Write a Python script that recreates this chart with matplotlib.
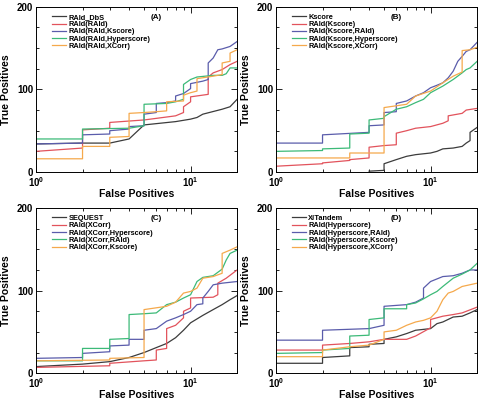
import numpy as np
import matplotlib.pyplot as plt
from matplotlib.ticker import MultipleLocator, LogLocator, NullFormatter

plt.rcParams['font.family'] = ['Liberation Sans', 'DejaVu Sans']
plt.rcParams['font.weight'] = 'bold'

colors = ['#3c3c3c', '#e2535c', '#5a5cab', '#3cba78', '#f5a94c']

# Panel A
a_labels = ['RAId_DbS', 'RAId(RAId)', 'RAId(RAId,Kscore)', 'RAId(RAId,Hyperscore)', 'RAId(RAId,XCorr)']
a_black_x = [1, 2, 3, 4, 5, 8, 10, 11, 12, 16, 18, 20]
a_black_y = [34, 35, 35, 40, 57, 61, 64, 66, 70, 76, 79, 88]
a_red_x = [1, 2, 2, 3, 3, 5, 8, 9, 9, 10, 10, 13, 13, 14, 16, 18, 20]
a_red_y = [25, 29, 51, 53, 60, 63, 68, 72, 79, 85, 91, 94, 115, 120, 124, 130, 134]
a_blue_x = [1, 2, 2, 3, 3, 4, 4, 5, 5, 6, 6, 7, 8, 8, 9, 10, 10, 12, 13, 13, 14, 15, 16, 18, 20]
a_blue_y = [34, 35, 45, 46, 50, 52, 55, 56, 70, 72, 83, 84, 86, 92, 95, 101, 107, 110, 112, 132, 138, 148, 149, 152, 158]
a_green_x = [1, 2, 2, 4, 5, 5, 7, 8, 9, 9, 10, 11, 14, 16, 17, 18, 20]
a_green_y = [40, 40, 52, 53, 56, 82, 83, 85, 88, 106, 112, 115, 117, 117, 119, 126, 126]
a_orange_x = [1, 2, 2, 3, 3, 4, 4, 5, 6, 7, 7, 9, 9, 10, 11, 11, 14, 16, 16, 18, 18, 20]
a_orange_y = [16, 16, 31, 31, 42, 43, 71, 72, 73, 74, 85, 86, 93, 96, 98, 113, 116, 118, 132, 134, 144, 148]

# Panel B
b_labels = ['Kscore', 'RAId(Kscore)', 'RAId(Kscore,RAId)', 'RAId(Kscore,Hyperscore)', 'RAId(Kscore,XCorr)']
b_black_x = [4, 5, 5, 6, 7, 8, 10, 11, 12, 14, 16, 17, 18, 18, 20]
b_black_y = [1, 2, 10, 15, 19, 21, 23, 25, 28, 29, 31, 35, 38, 48, 54]
b_red_x = [1, 2, 2, 3, 3, 4, 4, 5, 6, 6, 7, 8, 10, 12, 13, 13, 16, 17, 20]
b_red_y = [7, 10, 11, 14, 15, 17, 30, 32, 33, 47, 50, 53, 55, 59, 62, 68, 71, 75, 77]
b_blue_x = [1, 2, 2, 4, 4, 5, 5, 6, 6, 7, 8, 9, 10, 11, 12, 13, 14, 15, 16, 17, 18, 20]
b_blue_y = [35, 35, 45, 48, 56, 57, 72, 73, 83, 86, 92, 96, 102, 105, 108, 114, 122, 134, 140, 146, 148, 157]
b_green_x = [1, 2, 2, 3, 3, 4, 4, 5, 5, 6, 7, 8, 9, 10, 12, 14, 16, 17, 18, 20]
b_green_y = [25, 26, 28, 29, 46, 47, 63, 65, 67, 76, 79, 84, 88, 96, 104, 112, 120, 124, 126, 134]
b_orange_x = [1, 3, 3, 5, 5, 7, 8, 10, 12, 14, 16, 16, 18, 20]
b_orange_y = [17, 17, 23, 23, 78, 82, 92, 98, 108, 116, 121, 147, 148, 151]

# Panel C
c_labels = ['SEQUEST', 'RAId(XCorr)', 'RAId(XCorr,Hyperscore)', 'RAId(XCorr,RAId)', 'RAId(XCorr,Kscore)']
c_black_x = [1, 2, 3, 4, 5, 6, 7, 8, 9, 10, 12, 14, 16, 18, 20]
c_black_y = [8, 11, 14, 19, 25, 31, 36, 43, 52, 61, 70, 77, 83, 89, 94]
c_red_x = [1, 3, 3, 5, 6, 6, 7, 7, 8, 9, 9, 10, 10, 14, 15, 15, 17, 20]
c_red_y = [7, 9, 12, 15, 16, 28, 30, 54, 58, 67, 75, 79, 91, 92, 95, 109, 115, 125]
c_blue_x = [1, 2, 2, 3, 3, 4, 4, 5, 5, 6, 7, 8, 9, 10, 11, 12, 12, 13, 14, 16, 20]
c_blue_y = [18, 19, 24, 26, 33, 34, 41, 41, 52, 54, 63, 67, 71, 75, 83, 84, 91, 99, 107, 109, 111]
c_green_x = [1, 2, 2, 3, 3, 4, 4, 5, 6, 7, 8, 9, 10, 11, 12, 14, 16, 17, 18, 20]
c_green_y = [15, 15, 30, 30, 41, 42, 71, 72, 73, 83, 86, 91, 95, 111, 116, 118, 126, 137, 145, 149]
c_orange_x = [1, 3, 3, 5, 5, 7, 8, 9, 10, 11, 12, 14, 16, 16, 18, 20]
c_orange_y = [15, 16, 18, 19, 77, 81, 86, 97, 99, 103, 115, 117, 121, 145, 149, 153]

# Panel D
d_labels = ['X!Tandem', 'RAId(Hyperscore)', 'RAId(Hyperscore,RAId)', 'RAId(Hyperscore,Kscore)', 'RAId(Hyperscore,XCorr)']
d_black_x = [1, 2, 2, 3, 3, 4, 4, 5, 5, 6, 7, 8, 10, 11, 12, 14, 16, 18, 20]
d_black_y = [12, 12, 19, 21, 31, 32, 35, 36, 41, 44, 48, 52, 54, 60, 62, 68, 69, 73, 77]
d_red_x = [1, 2, 2, 3, 4, 5, 7, 8, 10, 10, 12, 14, 16, 20]
d_red_y = [28, 28, 34, 36, 38, 41, 41, 45, 55, 65, 69, 71, 73, 80]
d_blue_x = [1, 2, 2, 4, 5, 5, 7, 8, 9, 9, 10, 12, 14, 16, 18, 20]
d_blue_y = [40, 40, 52, 54, 58, 81, 83, 86, 91, 103, 111, 117, 118, 121, 125, 125]
d_green_x = [1, 2, 2, 3, 3, 4, 4, 5, 5, 7, 7, 8, 9, 10, 11, 12, 14, 16, 18, 20]
d_green_y = [24, 25, 28, 30, 45, 46, 65, 67, 78, 78, 83, 85, 90, 95, 99, 105, 115, 120, 125, 133]
d_orange_x = [1, 2, 2, 3, 4, 5, 5, 6, 7, 8, 9, 10, 11, 12, 13, 14, 16, 20]
d_orange_y = [20, 20, 28, 32, 34, 41, 50, 52, 58, 62, 64, 67, 75, 89, 97, 99, 105, 109]

panels = [
    ('(A)', a_labels, [(a_black_x, a_black_y), (a_red_x, a_red_y), (a_blue_x, a_blue_y),
                       (a_green_x, a_green_y), (a_orange_x, a_orange_y)]),
    ('(B)', b_labels, [(b_black_x, b_black_y), (b_red_x, b_red_y), (b_blue_x, b_blue_y),
                       (b_green_x, b_green_y), (b_orange_x, b_orange_y)]),
    ('(C)', c_labels, [(c_black_x, c_black_y), (c_red_x, c_red_y), (c_blue_x, c_blue_y),
                       (c_green_x, c_green_y), (c_orange_x, c_orange_y)]),
    ('(D)', d_labels, [(d_black_x, d_black_y), (d_red_x, d_red_y), (d_blue_x, d_blue_y),
                       (d_green_x, d_green_y), (d_orange_x, d_orange_y)]),
]

fig = plt.figure(figsize=(4.8, 4.0), dpi=100)
boxes = [(0.075, 0.57), (0.575, 0.57), (0.075, 0.067), (0.575, 0.067)]
w, h = 0.419, 0.413

for (tag, labels, series), (x0, y0) in zip(panels, boxes):
    ax = fig.add_axes([x0, y0, w, h])
    for (xs, ys), c, lab in zip(series, colors, labels):
        ax.plot(xs, ys, color=c, lw=0.9, label=lab)
    ax.set_xscale('log')
    ax.set_xlim(1, 20)
    ax.set_ylim(0, 200)
    ax.yaxis.set_major_locator(MultipleLocator(100))
    ax.yaxis.set_minor_locator(MultipleLocator(25))
    ax.xaxis.set_major_locator(LogLocator(base=10))
    ax.xaxis.set_minor_locator(LogLocator(base=10, subs=np.arange(2, 10)))
    ax.xaxis.set_minor_formatter(NullFormatter())
    ax.tick_params(which='both', direction='in', top=True, right=True, labelsize=7, width=0.6, pad=2)
    ax.tick_params(which='major', length=4)
    ax.tick_params(which='minor', length=2.5)
    for lbl in ax.get_xticklabels() + ax.get_yticklabels():
        lbl.set_fontweight('bold')
    for s in ax.spines.values():
        s.set_linewidth(0.7)
    ax.set_xlabel('False Positives', fontsize=7.5, fontweight='bold', labelpad=0.5)
    ax.set_ylabel('True Positives', fontsize=7.5, fontweight='bold', labelpad=4)
    ax.text(0.6, 0.935, tag, transform=ax.transAxes, fontsize=5.8, fontweight='bold', ha='center', va='center')
    ax.legend(loc='upper left', bbox_to_anchor=(0.06, 0.985), frameon=False,
              handlelength=1.8, handletextpad=0.35, labelspacing=0.02, borderaxespad=0.2,
              prop={'weight': 'bold', 'size': 5.3})

fig.savefig('out.png', dpi=100)
